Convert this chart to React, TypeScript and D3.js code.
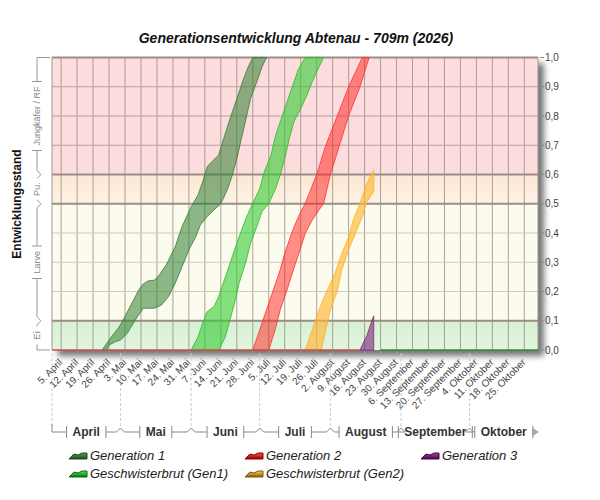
import React from "react";
import * as d3 from "d3";

const title = "Generationsentwicklung Abtenau - 709m (2026)";
const yAxisTitle = "Entwicklungsstand";

const dateStart = "2026-04-01";
const dateEnd = "2026-10-31";

const weekTicks = [
  "2026-04-05", "2026-04-12", "2026-04-19", "2026-04-26",
  "2026-05-03", "2026-05-10", "2026-05-17", "2026-05-24", "2026-05-31",
  "2026-06-07", "2026-06-14", "2026-06-21", "2026-06-28",
  "2026-07-05", "2026-07-12", "2026-07-19", "2026-07-26",
  "2026-08-02", "2026-08-09", "2026-08-16", "2026-08-23", "2026-08-30",
  "2026-09-06", "2026-09-13", "2026-09-20", "2026-09-27",
  "2026-10-04", "2026-10-11", "2026-10-18", "2026-10-25",
];

const monthNames = ["April", "Mai", "Juni", "Juli", "August", "September", "Oktober"];
const monthStarts = ["2026-04-01", "2026-05-01", "2026-06-01", "2026-07-01", "2026-08-01", "2026-09-01", "2026-10-01"];

const stageNames = ["Ei", "Larve", "Pu.", "Jungkäfer / RF"];
const stageFrom = [0, 0.1, 0.5, 0.6];
const stageTo = [0.1, 0.5, 0.6, 1.0];
const stageFills = ["url(#gEi)", "#fcfcee", "url(#gPu)", "#fcdcdc"];

const yTicks = [0, 0.1, 0.2, 0.3, 0.4, 0.5, 0.6, 0.7, 0.8, 0.9, 1.0];
const majorY = [0.1, 0.5, 0.6, 1.0];

type P = [string, number];

const gen1Early: P[] = [["04-23", 0], ["04-27", 0.045], ["04-30", 0.074], ["05-02", 0.1], ["05-06", 0.16], ["05-09", 0.205], ["05-11", 0.226], ["05-13", 0.236], ["05-16", 0.239], ["05-18", 0.256], ["05-21", 0.29], ["05-25", 0.353], ["05-28", 0.422], ["06-01", 0.49], ["06-04", 0.53], ["06-06", 0.574], ["06-08", 0.626], ["06-10", 0.643], ["06-13", 0.666], ["06-15", 0.717], ["06-18", 0.79], ["06-21", 0.859], ["06-24", 0.928], ["06-26", 0.968], ["06-28", 1.0]];
const gen1Late: P[] = [["04-25", 0], ["04-26", 0.017], ["04-29", 0.029], ["05-01", 0.034], ["05-04", 0.057], ["05-07", 0.097], ["05-09", 0.12], ["05-11", 0.143], ["05-16", 0.143], ["05-19", 0.154], ["05-22", 0.182], ["05-25", 0.228], ["05-28", 0.285], ["05-31", 0.342], ["06-03", 0.387], ["06-05", 0.427], ["06-08", 0.456], ["06-11", 0.479], ["06-14", 0.5], ["06-17", 0.551], ["06-19", 0.597], ["06-21", 0.654], ["06-23", 0.722], ["06-25", 0.79], ["06-27", 0.859], ["06-30", 0.922], ["07-02", 0.967], ["07-04", 1.0]];

const gesch1Early: P[] = [["06-01", 0], ["06-04", 0.045], ["06-06", 0.091], ["06-08", 0.131], ["06-11", 0.148], ["06-13", 0.182], ["06-16", 0.25], ["06-19", 0.319], ["06-22", 0.387], ["06-25", 0.45], ["06-28", 0.502], ["07-01", 0.551], ["07-03", 0.609], ["07-06", 0.666], ["07-08", 0.734], ["07-10", 0.78], ["07-13", 0.848], ["07-16", 0.916], ["07-18", 0.96], ["07-21", 1.0]];
const gesch1Late: P[] = [["06-13", 0], ["06-16", 0.045], ["06-18", 0.103], ["06-20", 0.16], ["06-22", 0.228], ["06-25", 0.302], ["06-27", 0.365], ["06-30", 0.427], ["07-02", 0.473], ["07-05", 0.5], ["07-08", 0.551], ["07-10", 0.597], ["07-12", 0.654], ["07-14", 0.722], ["07-16", 0.78], ["07-19", 0.825], ["07-22", 0.876], ["07-24", 0.916], ["07-27", 0.967], ["07-29", 1.0]];

const gen2Early: P[] = [["06-28", 0], ["07-01", 0.068], ["07-04", 0.137], ["07-07", 0.205], ["07-10", 0.274], ["07-12", 0.33], ["07-15", 0.399], ["07-18", 0.456], ["07-21", 0.502], ["07-26", 0.6], ["07-30", 0.7], ["08-04", 0.8], ["08-09", 0.9], ["08-15", 1.0]];
const gen2Late: P[] = [["07-05", 0], ["07-08", 0.074], ["07-10", 0.137], ["07-13", 0.205], ["07-16", 0.279], ["07-19", 0.35], ["07-21", 0.399], ["07-24", 0.444], ["07-27", 0.479], ["07-29", 0.5], ["08-01", 0.6], ["08-05", 0.7], ["08-09", 0.8], ["08-14", 0.9], ["08-18", 1.0]];

const gesch2Early: P[] = [["07-21", 0], ["07-24", 0.068], ["07-27", 0.137], ["07-30", 0.194], ["08-03", 0.262], ["08-06", 0.33], ["08-09", 0.387], ["08-11", 0.444], ["08-14", 0.502], ["08-17", 0.57], ["08-20", 0.615]];
const gesch2Late: P[] = [["07-28", 0], ["07-30", 0.068], ["08-01", 0.137], ["08-04", 0.2], ["08-06", 0.274], ["08-09", 0.342], ["08-12", 0.399], ["08-15", 0.456], ["08-17", 0.507], ["08-20", 0.541]];

const gen3Early: P[] = [["08-14", 0], ["08-17", 0.05], ["08-20", 0.117]];
const gen3Late: P[] = [["08-14", 0], ["08-20", 0]];

const redBaseline: P[] = [["04-01", 0], ["08-14", 0]];
const greenBaseline: P[] = [["08-23", 0], ["10-31", 0]];

const seriesNames = ["Generation 1", "Geschwisterbrut (Gen1)", "Generation 2", "Geschwisterbrut (Gen2)", "Generation 3"];
const seriesEarly = [gen1Early, gesch1Early, gen2Early, gesch2Early, gen3Early];
const seriesLate = [gen1Late, gesch1Late, gen2Late, gesch2Late, gen3Late];
const seriesFill = ["#2e7d32", "#33cc33", "#ff2020", "#ffb732", "#7b1f7b"];
const seriesFillOpacity = [0.55, 0.6, 0.5, 0.65, 0.6];
const seriesStroke = ["#3a7a3a", "#2db82d", "#ff3030", "#ffb020", "#7a2a7a"];
const legendDark = ["#1a4d1a", "#0a6a0a", "#8b0000", "#7a5a00", "#4b004b"];

const FONT = "'Liberation Sans', Arial, sans-serif";

const parseDate = d3.timeParse("%Y-%m-%d");
const pd = (s: string) => parseDate(s.length === 5 ? `2026-${s}` : s) as Date;

let ctx: CanvasRenderingContext2D | null = null;
function measure(t: string, font: string) {
  if (!ctx) ctx = document.createElement("canvas").getContext("2d");
  if (!ctx) return t.length * 6;
  ctx.font = font;
  return ctx.measureText(t).width;
}

export default function App() {
  const L = 52, R = 538, T = 57.5, B = 350;
  const x = d3.scaleTime().domain([pd(dateStart), pd(dateEnd)]).range([L, R]);
  const y = d3.scaleLinear().domain([0, 1]).range([B, T]);
  const line = d3.line<P>().x((d) => x(pd(d[0]))).y((d) => y(d[1]));
  const band = (e: P[], l: P[]) => line([...e, ...l.slice().reverse()]) + "Z";
  const fmt = d3.formatLocale({ decimal: ",", thousands: ".", grouping: [3], currency: ["", "€"] }).format(".1f");

  // left bracket
  const bx = 37;
  const leftBracket: JSX.Element[] = [];
  stageNames.forEach((name, i) => {
    const yTop = y(stageTo[i]);
    const yBot = y(stageFrom[i]);
    const yc = (yTop + yBot) / 2;
    const len = measure(name, `9px ${FONT}`);
    const a1 = yTop + (i === 3 ? 0 : 4);
    const a2 = yc - len / 2 - 5;
    const b1 = yc + len / 2 + 5;
    const b2 = yBot - (i === 0 ? 0 : 4);
    if (a2 > a1) {
      leftBracket.push(<line key={`la${i}`} x1={bx} x2={bx} y1={a1} y2={a2} />);
      if (a2 - a1 > 8) leftBracket.push(<line key={`lab${i}`} x1={bx - 5} x2={bx + 5} y1={a2} y2={a2} />);
    }
    if (b2 > b1) {
      leftBracket.push(<line key={`lb${i}`} x1={bx} x2={bx} y1={b1} y2={b2} />);
      if (b2 - b1 > 8) leftBracket.push(<line key={`lbb${i}`} x1={bx - 5} x2={bx + 5} y1={b1} y2={b1} />);
    }
    leftBracket.push(
      <text key={`lt${i}`} transform={`translate(${bx},${yc}) rotate(-90)`} textAnchor="middle" dy="0.35em"
        fontSize={9} fill="#888" stroke="none">{name}</text>
    );
    if (i > 0) {
      const yb = yBot;
      leftBracket.push(<polyline key={`lc${i}`} fill="none" points={`${bx},${yb - 4} ${bx + 4},${yb} ${bx},${yb + 4}`} />);
    }
  });

  // month bracket
  const my = 432;
  const monthBracket: JSX.Element[] = [];
  monthNames.forEach((name, i) => {
    const xs = x(pd(monthStarts[i]));
    const xe = i < monthNames.length - 1 ? x(pd(monthStarts[i + 1])) : R;
    const xc = (xs + xe) / 2;
    const w = measure(name, `bold 12px ${FONT}`);
    const a1 = xs + (i === 0 ? 0 : 4);
    const a2 = xc - w / 2 - 6;
    const b1 = xc + w / 2 + 6;
    const b2 = i < monthNames.length - 1 ? xe - 4 : xe - 6;
    monthBracket.push(<line key={`ma${i}`} x1={a1} x2={a2} y1={my} y2={my} />);
    monthBracket.push(<line key={`mab${i}`} x1={a2} x2={a2} y1={my - 6} y2={my + 6} />);
    monthBracket.push(<line key={`mb${i}`} x1={b1} x2={b2} y1={my} y2={my} />);
    monthBracket.push(<line key={`mbb${i}`} x1={b1} x2={b1} y1={my - 6} y2={my + 6} />);
    monthBracket.push(
      <text key={`mt${i}`} x={xc} y={my} dy="0.36em" textAnchor="middle" fontSize={12} fontWeight="bold"
        fill="#333" stroke="none">{name}</text>
    );
    if (i > 0) {
      monthBracket.push(<polyline key={`mc${i}`} fill="none" points={`${xs - 4},${my} ${xs},${my - 4} ${xs + 4},${my}`} />);
    }
  });

  const legendPos = [
    [69, 455], [69, 473], [245, 455], [245, 473], [421, 455],
  ];

  return (
    <svg width={600} height={500} style={{ position: "absolute", left: 0, top: 0, background: "#fff" }}
      fontFamily={FONT}>
      <defs>
        <linearGradient id="gEi" x1="0" y1="0" x2="0" y2="1">
          <stop offset="0" stopColor="#d6f0d2" />
          <stop offset="1" stopColor="#e2f5df" />
        </linearGradient>
        <linearGradient id="gPu" x1="0" y1="0" x2="0" y2="1">
          <stop offset="0" stopColor="#fce7d2" />
          <stop offset="1" stopColor="#fdf3e6" />
        </linearGradient>
        {seriesFill.map((c, i) => (
          <linearGradient key={i} id={`lg${i}`} x1="0" y1="0" x2="0" y2="1">
            <stop offset="0" stopColor={c} stopOpacity={0.8} />
            <stop offset="1" stopColor={legendDark[i]} />
          </linearGradient>
        ))}
        <filter id="shadow" x="-10%" y="-10%" width="130%" height="130%">
          <feGaussianBlur in="SourceAlpha" stdDeviation="3" />
          <feOffset dx="6" dy="6" result="ob" />
          <feComponentTransfer><feFuncA type="linear" slope="0.55" /></feComponentTransfer>
          <feMerge><feMergeNode /><feMergeNode in="SourceGraphic" /></feMerge>
        </filter>
        <clipPath id="plotClip"><rect x={L} y={T - 1} width={R - L} height={B - T + 2} /></clipPath>
      </defs>

      <text x={296} y={43} textAnchor="middle" fontSize={14} fontWeight="bold" fontStyle="italic" fill="#111">{title}</text>

      {/* plot background with shadow */}
      <rect x={L} y={T} width={R - L} height={B - T} fill="#fff" filter="url(#shadow)" />
      {stageNames.map((n, i) => (
        <rect key={n} x={L} y={y(stageTo[i])} width={R - L} height={y(stageFrom[i]) - y(stageTo[i])} fill={stageFills[i]} />
      ))}

      {/* grid */}
      <g>
        {weekTicks.map((t) => (
          <line key={t} x1={x(pd(t))} x2={x(pd(t))} y1={T} y2={B} stroke="#9c9086" strokeOpacity={0.85} strokeWidth={1} />
        ))}
        {yTicks.filter((v) => !majorY.includes(v) && v > 0).map((v) => (
          <line key={v} x1={L} x2={R} y1={y(v)} y2={y(v)} stroke={v > 0.6 ? "#b8a0a0" : "#cfc9b8"} strokeWidth={1} />
        ))}
        {majorY.map((v) => (
          <line key={v} x1={L} x2={R} y1={y(v)} y2={y(v)} stroke="#9a8e86" strokeWidth={2} />
        ))}
        <line x1={L} x2={L} y1={T} y2={B} stroke="#a09890" strokeWidth={1} />
        <line x1={R} x2={R} y1={T} y2={B} stroke="#a09890" strokeWidth={1} />
      </g>

      {/* series bands */}
      <g clipPath="url(#plotClip)">
        {seriesNames.map((n, i) => (
          <path key={n} d={band(seriesEarly[i], seriesLate[i])} fill={seriesFill[i]} fillOpacity={seriesFillOpacity[i]}
            stroke={seriesStroke[i]} strokeOpacity={0.8} strokeWidth={1} strokeLinejoin="round" />
        ))}
        <path d={line(redBaseline) || ""} stroke="#c8504a" strokeWidth={1.5} fill="none" />
        <path d={line(greenBaseline) || ""} stroke="#2e8b2e" strokeWidth={1.5} fill="none" />
      </g>

      {/* right y axis */}
      <g fontSize={10} fill="#444">
        {yTicks.map((v) => (
          <g key={v}>
            <line x1={540} x2={544} y1={y(v)} y2={y(v)} stroke="#888" />
            <text x={545} y={y(v)} dy="0.35em">{fmt(v)}</text>
          </g>
        ))}
      </g>

      {/* bottom ticks & labels */}
      <g fontSize={10} fill="#444">
        {weekTicks.map((t) => {
          const d = pd(t);
          const xx = x(d);
          return (
            <g key={t}>
              <line x1={xx} x2={xx} y1={B + 1} y2={B + 5} stroke="#999" />
              <text transform={`translate(${xx + 2},${B + 13}) rotate(-45)`} textAnchor="end">
                {`${d.getDate()}. ${monthNames[d.getMonth() - 3]}`}
              </text>
            </g>
          );
        })}
      </g>

      {/* month dashed separators */}
      {monthStarts.map((m) => (
        <line key={m} x1={x(pd(m))} x2={x(pd(m))} y1={B + 3} y2={my - 4} stroke="#ccc" strokeDasharray="3,2" />
      ))}
      <g stroke="#888" strokeWidth={1}>
        <line x1={L} x2={L} y1={my - 8} y2={my} />
        {monthBracket}
      </g>
      <path d={`M${R - 5},${my - 4}L${R + 1},${my}L${R - 5},${my + 4}Z`} fill="#aaa" />

      {/* left axis */}
      <text transform={`translate(21,204) rotate(-90)`} textAnchor="middle" fontSize={12} fontWeight="bold" fill="#111">{yAxisTitle}</text>
      <g stroke="#999" strokeWidth={1}>
        <line x1={bx} x2={50} y1={T} y2={T} />
        <line x1={bx} x2={50} y1={B} y2={B} />
        {leftBracket}
      </g>

      {/* legend */}
      {seriesNames.map((n, i) => {
        const [lx, ly] = legendPos[i];
        return (
          <g key={n} transform={`translate(${lx},${ly})`}>
            <path d="M0,4 L5,-1 L9,0 L13,-2 L18,-2 L18,4 Z" fill={`url(#lg${i})`} stroke={legendDark[i]} strokeWidth={1} />
            <text x={21} y={0} dy="0.4em" fontSize={13} fontStyle="italic" fill="#222">{n}</text>
          </g>
        );
      })}
    </svg>
  );
}
